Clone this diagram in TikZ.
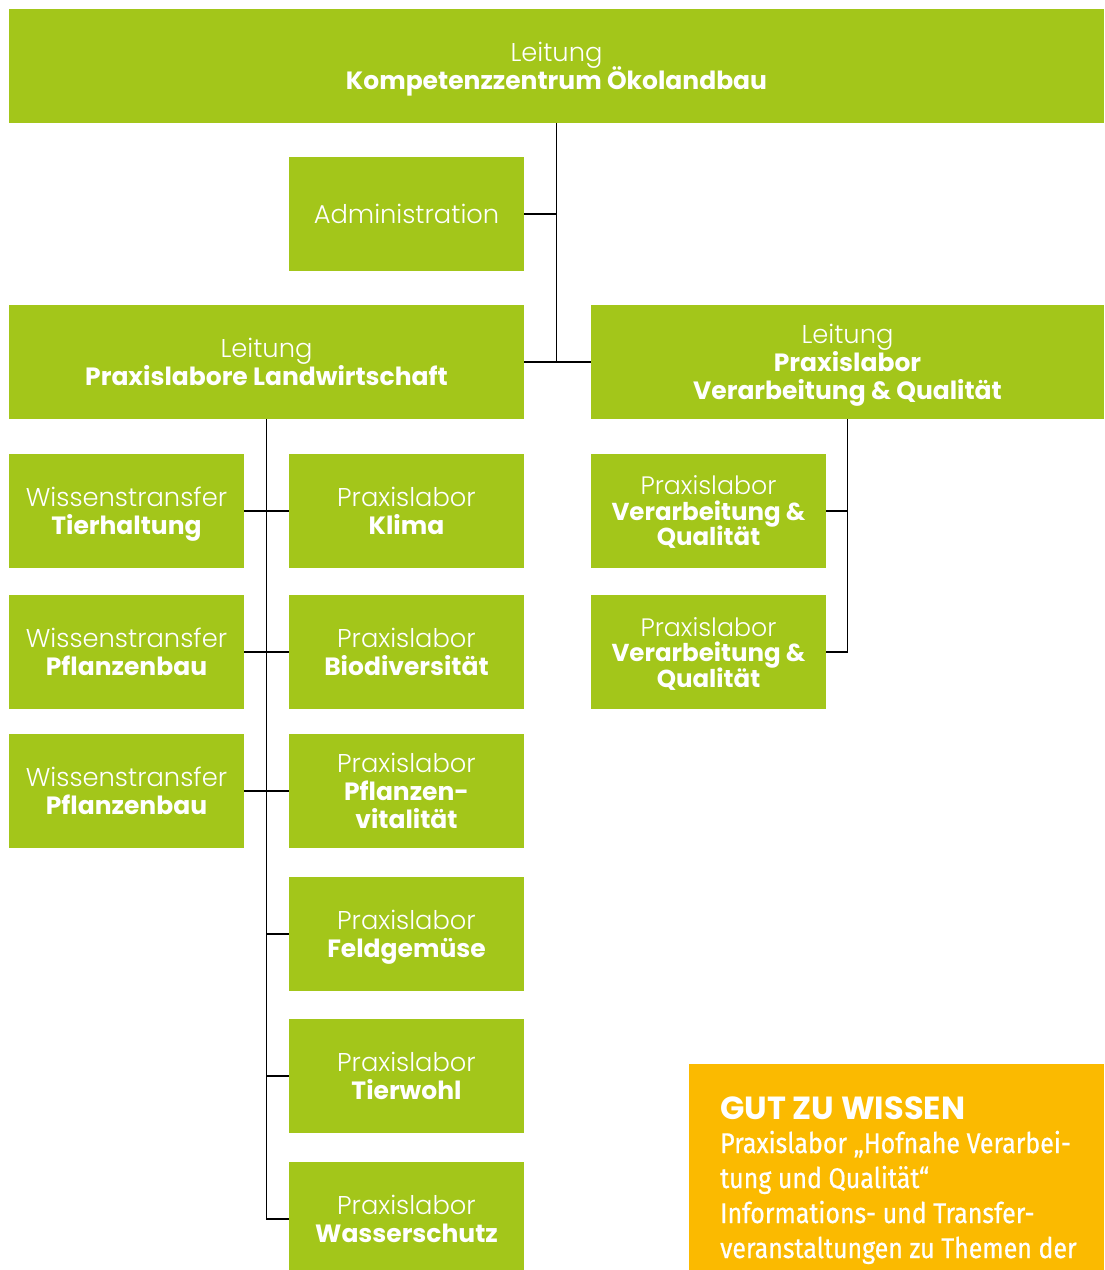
\documentclass[tikz,border=0pt]{standalone}
\usepackage{fontspec}
\setmainfont{Poppins}[BoldFont={Poppins Bold}]
\newfontfamily\lightf{Poppins Light}[Scale=1.03]
\newfontfamily\condf{Fira Sans}[FakeStretch=0.875, FakeBold=0.6]
\definecolor{kgreen}{HTML}{A3C61A}
\definecolor{kyellow}{HTML}{FBBA00}
\newcommand\ltx[1]{{\lightf #1}}
\newcommand\bdx[1]{\smash{\bfseries #1}}
\begin{document}
\begin{tikzpicture}[x=1pt,y=-1pt,
  box/.style={fill=kgreen, text=white, inner sep=0pt, align=center,
    font=\fontsize{25}{28}\selectfont},
  conn/.style={draw=black, line width=1.4pt}]
\useasboundingbox (0,0) rectangle (1104,1270);
\clip (0,0) rectangle (1104,1270);
% boxes
\node[box, minimum width=1095, minimum height=114] (top) at (556.5,66) {\ltx{Leitung}\\\bdx{Kompetenzzentrum Ökolandbau}};
\node[box, minimum width=235, minimum height=114] (adm) at (406.5,214) {\ltx{Administration}};
\node[box, minimum width=515, minimum height=114] (ll) at (266.5,362) {\ltx{Leitung}\\\bdx{Praxislabore Landwirtschaft}};
\node[box, minimum width=513, minimum height=114] (rl) at (847.5,362) {\ltx{Leitung}\\\bdx{Praxislabor}\\\bdx{Verarbeitung \& Qualität}};
\node[box, minimum width=235, minimum height=114] (w1) at (126.5,511) {\ltx{Wissenstransfer}\\\bdx{Tierhaltung}};
\node[box, minimum width=235, minimum height=114] (w2) at (126.5,652) {\ltx{Wissenstransfer}\\\bdx{Pflanzenbau}};
\node[box, minimum width=235, minimum height=114] (w3) at (126.5,791) {\ltx{Wissenstransfer}\\\bdx{Pflanzenbau}};
\node[box, minimum width=235, minimum height=114] (p1) at (406.5,511) {\ltx{Praxislabor}\\\bdx{Klima}};
\node[box, minimum width=235, minimum height=114] (p2) at (406.5,652) {\ltx{Praxislabor}\\\bdx{Biodiversität}};
\node[box, minimum width=235, minimum height=114] (p3) at (406.5,791) {\ltx{Praxislabor}\\\bdx{Pflanzen-}\\\bdx{vitalität}};
\node[box, minimum width=235, minimum height=114] (p4) at (406.5,934) {\ltx{Praxislabor}\\\bdx{Feldgemüse}};
\node[box, minimum width=235, minimum height=114] (p5) at (406.5,1076) {\ltx{Praxislabor}\\\bdx{Tierwohl}};
\node[box, minimum width=235, minimum height=114] (p6) at (406.5,1219) {\ltx{Praxislabor}\\\bdx{Wasserschutz}};
\node[box, minimum width=235, minimum height=114, font=\fontsize{24.5}{25.5}\selectfont] (r1) at (708.5,511) {\ltx{Praxislabor}\\\bdx{Verarbeitung \&}\\\bdx{Qualität}};
\node[box, minimum width=235, minimum height=114, font=\fontsize{24.5}{25.5}\selectfont] (r2) at (708.5,652) {\ltx{Praxislabor}\\\bdx{Verarbeitung \&}\\\bdx{Qualität}};
% info box
\node[fill=kyellow, minimum width=415, minimum height=240, inner sep=0pt] (info) at (896.5,1184) {};
\node[anchor=base west, text=white, inner sep=0pt, font=\fontsize{32}{35}\selectfont\bfseries] (infotitle) at (720,1119) {GUT ZU WISSEN};
\node[anchor=base west, text=white, inner sep=0pt, align=left, font=\condf\fontsize{28.5}{35}\selectfont] (infotext) at (720,1258)
  {Praxislabor „Hofnahe Verarbei-\\tung und Qualität“\\Informations- und Transfer-\\veranstaltungen zu Themen der};
% connectors
\draw[conn] (top.south) -- (top.south |- ll.east);
\draw[conn] (adm.east) -- (adm.east -| top.south);
\draw[conn] (ll.east) -- (rl.west);
\draw[conn] (ll.south) -- (ll.south |- p6.west) -- (p6.west);
\draw[conn] (w1.east) -- (p1.west);
\draw[conn] (w2.east) -- (p2.west);
\draw[conn] (w3.east) -- (p3.west);
\draw[conn] (ll.south |- p4.west) -- (p4.west);
\draw[conn] (ll.south |- p5.west) -- (p5.west);
\draw[conn] (rl.south) -- (rl.south |- r2.east) -- (r2.east);
\draw[conn] (r1.east) -- (r1.east -| rl.south);
\end{tikzpicture}
\end{document}
